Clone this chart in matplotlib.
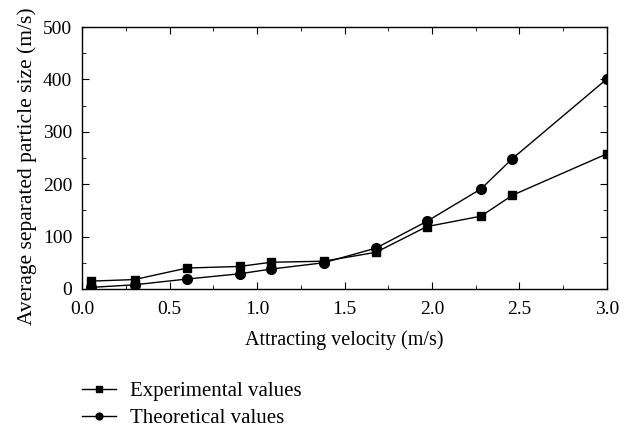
import numpy as np
import matplotlib.pyplot as plt

# velocidade de atração (m/s) e tamanho médio de partícula separada
velocidade = [0.05, 0.30, 0.60, 0.90, 1.08, 1.38, 1.68, 1.97, 2.28, 2.46, 3.00]
experimental = [15, 18, 40, 43, 51, 53, 70, 119, 139, 179, 258]
teorico = [3, 8, 19, 29, 38, 50, 78, 129, 191, 249, 401]

plt.rcParams['font.family'] = ['Liberation Serif', 'DejaVu Serif']

fig = plt.figure(figsize=(6.29, 4.28), dpi=100)
ax = fig.add_axes([0.1304, 0.3248, 0.8346, 0.6121])

ax.plot(velocidade, experimental, 'k-s', lw=1, markersize=6, label='Experimental values')
ax.plot(velocidade, teorico, 'k-o', lw=1, markersize=7, label='Theoretical values')

ax.set_xlim(0, 3.0)
ax.set_ylim(0, 500)
ax.set_xticks(np.arange(0, 3.01, 0.5))
ax.set_xticks(np.arange(0, 3.01, 0.25), minor=True)
ax.set_yticks(np.arange(0, 501, 100))
ax.set_yticks(np.arange(0, 501, 50), minor=True)
ax.xaxis.set_major_formatter(plt.FormatStrFormatter('%.1f'))
ax.tick_params(which='both', direction='in', top=True, right=True, labelsize=14)
ax.tick_params(which='major', length=5)
ax.tick_params(which='minor', length=3)
ax.tick_params(axis='x', pad=9)
ax.tick_params(axis='y', pad=7)
for s in ax.spines.values():
    s.set_linewidth(1)

ax.set_xlabel('Attracting velocity (m/s)', fontsize=14.5)
ax.xaxis.set_label_coords(0.5, -0.156)
ax.set_ylabel('Average separated particle size (m/s)', fontsize=15.5)
ax.yaxis.set_label_coords(-0.086, 0.47)

ax.legend(loc='upper left', bbox_to_anchor=(74 / 629, 1 - 373 / 428),
          bbox_transform=fig.transFigure, frameon=False,
          fontsize=15, handlelength=1.6, handletextpad=0.67, labelspacing=0.35,
          markerscale=0.7, borderaxespad=0)

fig.savefig('out.png', dpi=100)
